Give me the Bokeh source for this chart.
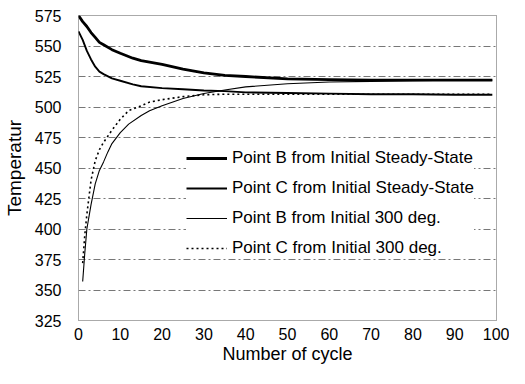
from bokeh.plotting import figure
from bokeh.models import FixedTicker, Legend, LegendItem
from bokeh.embed import file_html
from bokeh.resources import INLINE

# Data
cycles_ss = [0, 1, 2, 3, 4, 5, 6, 8, 10, 13, 15, 20, 25, 30, 35, 40, 50, 60, 70, 80, 90, 99]
b_steady = [575, 570, 566, 561, 557, 553, 551, 547, 544, 540, 538, 535, 531, 528, 526, 525,
            523, 522.5, 522, 522, 522, 522]
c_steady = [562, 555, 546, 539, 533, 529, 527, 523.5, 521.5, 518.5, 517, 515.5, 514.5, 513.5, 513,
            512, 511.5, 511, 510.5, 510.5, 510, 510]

cycles_300 = [1, 1.5, 2, 3, 4, 5, 6, 7, 8, 10, 12, 15, 17, 20, 25, 30, 35, 40, 50, 60, 70, 80, 90, 99]
b_300 = [357, 380, 400, 420, 437, 448, 455, 463, 470, 479, 486, 493, 497, 501, 507, 511, 514,
         516.5, 519, 520.5, 521, 521.5, 522, 522]
c_300 = [372, 395, 412, 440, 456, 465, 471, 476, 481, 490, 497, 501, 504, 506, 508.5, 510,
         510.5, 510.5, 510.5, 510.5, 510.5, 510.5, 510.5, 510.5]

labels = ["Point B from Initial Steady-State", "Point C from Initial Steady-State",
          "Point B from Initial 300 deg.", "Point C from Initial 300 deg."]
y_ticks = [325, 350, 375, 400, 425, 450, 475, 500, 525, 550, 575]
x_ticks = [0, 10, 20, 30, 40, 50, 60, 70, 80, 90, 100]

FONT = "Liberation Sans"

p = figure(width=509, height=368, output_backend="svg", toolbar_location=None,
           x_range=(0, 100), y_range=(325, 575),
           min_border_left=77, min_border_right=13, min_border_top=15, min_border_bottom=48)

r1 = p.line(cycles_ss, b_steady, line_color="black", line_width=2.8)
r2 = p.line(cycles_ss, c_steady, line_color="black", line_width=1.9)
r3 = p.line(cycles_300, b_300, line_color="black", line_width=1.1)
r4 = p.line(cycles_300, c_300, line_color="black", line_width=1.6, line_dash="2 3")

legend = Legend(items=[LegendItem(label=labels[0], renderers=[r1]),
                       LegendItem(label=labels[1], renderers=[r2]),
                       LegendItem(label=labels[2], renderers=[r3]),
                       LegendItem(label=labels[3], renderers=[r4])],
                location=(108, 62), border_line_color=None, background_fill_color="white",
                background_fill_alpha=1.0, padding=2, margin=0, spacing=10,
                glyph_width=41, glyph_height=20, label_height=20, label_standoff=5,
                label_text_font=FONT, label_text_font_size="17px", label_text_color="black")
p.add_layout(legend, "center")

p.xaxis.ticker = FixedTicker(ticks=x_ticks)
p.yaxis.ticker = FixedTicker(ticks=y_ticks)
p.xgrid.grid_line_color = None
p.ygrid.grid_line_color = "#777777"
p.ygrid.grid_line_dash = "7 3 2 3"
p.ygrid.grid_line_width = 1

for ax in (p.xaxis, p.yaxis):
    ax.axis_line_color = None
    ax.major_tick_line_color = None
    ax.minor_tick_line_color = None
    ax.major_tick_out = 0
    ax.major_tick_in = 0
    ax.major_label_text_font = FONT
    ax.major_label_text_font_size = "16px"
    ax.major_label_text_color = "black"
    ax.axis_label_text_font = FONT
    ax.axis_label_text_font_style = "normal"
    ax.axis_label_text_color = "black"

p.xaxis.axis_label = "Number of cycle"
p.yaxis.axis_label = "Temperatur"
p.xaxis.axis_label_text_font_size = "18px"
p.yaxis.axis_label_text_font_size = "19px"
p.xaxis.major_label_standoff = 7
p.xaxis.axis_label_standoff = 1
p.yaxis.major_label_standoff = 17
p.yaxis.axis_label_standoff = 7

p.outline_line_color = "#555555"
p.outline_line_dash = "1 1"
p.outline_line_width = 1
p.background_fill_color = "white"
p.border_fill_color = "white"

open("out.html", "w").write(file_html(p, INLINE))
